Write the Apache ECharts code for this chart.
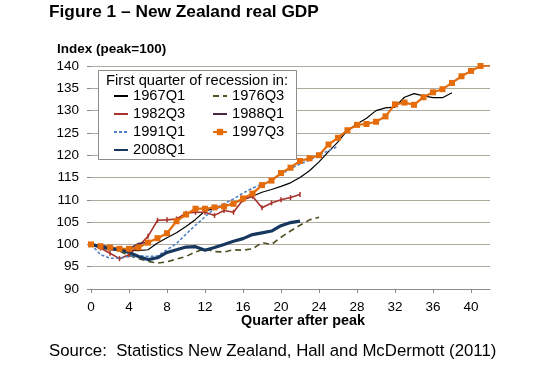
<!DOCTYPE html>
<html>
<head>
<meta charset="utf-8">
<script src="https://cdn.jsdelivr.net/npm/echarts@6/dist/echarts.min.js"></script>
<style>
html,body{margin:0;padding:0;background:#fff;}
#chart{width:550px;height:373px;}
</style>
</head>
<body>
<div id="chart"></div>
<script>
var quarters = ['0','1','2','3','4','5','6','7','8','9','10','11','12','13','14','15','16','17','18','19','20','21','22','23','24','25','26','27','28','29','30','31','32','33','34','35','36','37','38','39','40','41','42'];

var s1967Q1 = [100,99.8,99.4,99.1,98.7,98.6,98.8,100.3,101.5,102.6,104,105.6,107.5,108,108.5,109.3,110,110.8,111.7,112.3,113,113.8,115,116.5,118.5,120.8,123,125.6,127,128.3,130,130.6,130.8,133,133.8,133.3,132.9,132.9,134];
var s1976Q3 = [100,99.7,99.2,98.5,97.5,96.8,96.2,95.8,96.1,96.7,97.3,98.3,99,98.4,98.3,98.8,98.7,99,100.4,100,101.6,103,104.3,105.5,106.1];
var s1982Q3 = [100,99.2,98,96.8,97.7,99.6,101.8,105.4,105.5,105.7,107,107.2,107.2,106.5,107.6,107.2,110,110.8,108.2,109.3,110,110.5,111.2];
var s1988Q1 = [100,99.7,99.4,99.1,98.9,100.2,100.5];
var s1991Q1 = [100,97.7,96.9,96.9,97.3,97.5,97.3,97.4,98.8,100.2,102.3,104.3,106.2,108,109.1,110.2,111.5,112.6,113.5,114.4,115.7,117,118,118.9,120,121,122];
var s1997Q3 = [100,99.6,99.3,99,99,99.3,100.4,101.4,102.5,105.2,106.7,108,108,108.3,108.5,109.1,110.3,111.4,113.3,114.3,116,117.2,118.7,119.3,120,122.4,123.9,125.6,126.8,127,127.5,128.7,131.4,131.8,131.3,133,134.1,134.8,136.2,137.7,138.9,140,140.2];
var s2008Q1 = [100,99.5,99,98.8,98.2,97.3,96.6,97,98.2,98.8,99.4,99.5,98.7,99.3,100,100.7,101.3,102.2,102.6,103,104.2,104.9,105.2];
var yTicks = {min:90, max:140, step:5};

var chart = echarts.init(document.getElementById('chart'), null, {renderer:'canvas'});
var FONT = 'Liberation Sans, Arial, sans-serif';

function lineSeries(name, data, color, width, dash, extra) {
  var s = {
    name: name, type: 'line', data: data, color: color,
    symbol: 'none', smooth: false, animation: false,
    lineStyle: {color: color, width: width, type: dash || 'solid'},
    itemStyle: {color: color}
  };
  if (extra) { for (var k in extra) s[k] = extra[k]; }
  return s;
}
function plain(name) { return {name: name, itemStyle: {opacity: 0}}; }

var legendText = {fontSize: 14.7, color: '#000', lineHeight: 18, fontFamily: FONT};

var option = {
  animation: false,
  backgroundColor: '#fff',
  textStyle: {fontFamily: FONT},
  grid: {left: 91, right: 60, top: 66, bottom: 84, containLabel: false},
  xAxis: {
    type: 'category', data: quarters, boundaryGap: false,
    axisLine: {show: true, lineStyle: {color: '#8a8a8a', width: 1}},
    axisTick: {show: true, interval: 3, length: 4, inside: false, lineStyle: {color: '#8a8a8a'}},
    axisLabel: {interval: 3, color: '#000', fontSize: 13.5, margin: 11, fontFamily: FONT},
    splitLine: {show: false}
  },
  yAxis: {
    type: 'value', min: yTicks.min, max: yTicks.max, interval: yTicks.step,
    axisLine: {show: false},
    axisTick: {show: true, length: 4, lineStyle: {color: '#8a8a8a'}},
    axisLabel: {color: '#000', fontSize: 13.5, margin: 12, fontFamily: FONT},
    splitLine: {show: true, lineStyle: {color: '#b0a99e', width: 1}}
  },
  legend: [
    {
      data: [plain('1967Q1'), plain('1982Q3'), plain('1991Q1'), plain('2008Q1')],
      orient: 'vertical', left: 113, top: 87,
      itemWidth: 14, itemHeight: 8, itemGap: 0, padding: 0,
      textStyle: legendText, z: 6
    },
    {
      data: [plain('1976Q3'), plain('1988Q1'), {name: '1997Q3'}],
      orient: 'vertical', left: 212, top: 87,
      itemWidth: 14, itemHeight: 8, itemGap: 0, padding: 0,
      textStyle: legendText, z: 6
    }
  ],
  graphic: [
    {type: 'text', left: 49, top: 4, z: 10,
     style: {text: 'Figure 1 \u2013 New Zealand real GDP', font: 'bold 17.3px ' + FONT, fill: '#000'}},
    {type: 'text', left: 57, top: 42, z: 10,
     style: {text: 'Index (peak=100)', font: 'bold 13.5px ' + FONT, fill: '#000'}},
    {type: 'text', left: 241, top: 314, z: 10,
     style: {text: 'Quarter after peak', font: 'bold 14.4px ' + FONT, fill: '#000'}},
    {type: 'text', left: 49, top: 343, z: 10,
     style: {text: 'Source:  Statistics New Zealand, Hall and McDermott (2011)', font: '16.8px ' + FONT, fill: '#000'}},
    {type: 'rect', z: 4, shape: {x: 98.5, y: 70.5, width: 198, height: 89},
     style: {fill: '#fff', stroke: '#8c8c8c', lineWidth: 1}},
    {type: 'text', left: 106, top: 73, z: 10,
     style: {text: 'First quarter of recession in:', font: '14.7px ' + FONT, fill: '#000'}}
  ],
  series: [
    lineSeries('1967Q1', s1967Q1, '#000000', 1.2),
    lineSeries('1976Q3', s1976Q3, '#4f5124', 1.6, [6, 4]),
    lineSeries('1982Q3', s1982Q3, '#a8322b', 1.6, 'solid', {symbol: 'rect', symbolSize: [1.5, 5], showSymbol: true}),
    lineSeries('1988Q1', s1988Q1, '#4a2745', 1.6),
    lineSeries('1991Q1', s1991Q1, '#4f81c6', 1.6, [3, 2]),
    lineSeries('1997Q3', s1997Q3, '#e46c0a', 2.2, 'solid', {symbol: 'rect', symbolSize: 6, showSymbol: true}),
    lineSeries('2008Q1', s2008Q1, '#17375e', 3.2)
  ]
};
chart.setOption(option);
</script>
</body>
</html>
